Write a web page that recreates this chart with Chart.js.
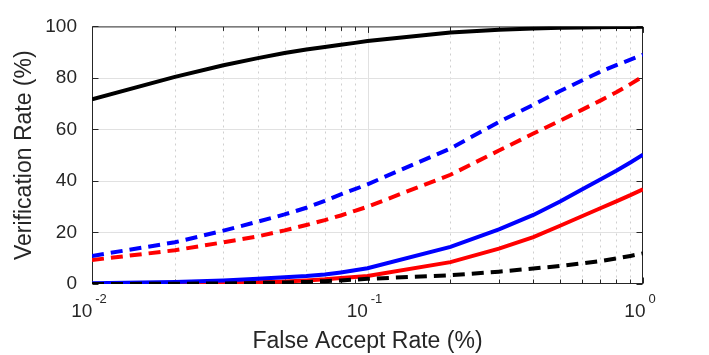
<!DOCTYPE html>
<html>
<head>
<meta charset="utf-8">
<script src="https://cdn.jsdelivr.net/npm/chart.js@4/dist/chart.umd.min.js"></script>
<style>
  html, body { margin: 0; padding: 0; background: #fff; }
  #wrap { width: 709px; height: 355px; }
</style>
</head>
<body>
<div id="wrap"><canvas id="rocChart"></canvas></div>
<script>
// false accept rate (%) sample points
const far = [0.01, 0.02, 0.03, 0.04, 0.05, 0.06, 0.07, 0.08, 0.09,
             0.1, 0.2, 0.3, 0.4, 0.5, 0.6, 0.7, 0.8, 0.9, 1];

// verification rate (%) per curve
const blackSolid = [71.7, 80.4, 84.9, 87.7, 89.7, 91.0, 92.0, 92.9, 93.6,
                    94.3, 97.6, 98.7, 99.2, 99.5, 99.6, 99.7, 99.8, 99.8, 99.9];
const blueDashed = [10.9, 16.2, 20.7, 24.2, 27.0, 29.6, 32.3, 34.8, 36.8,
                    38.7, 52.6, 62.9, 69.6, 74.9, 79.0, 82.4, 85.0, 87.1, 89.0];
const redDashed  = [9.3, 13.1, 16.2, 18.5, 20.8, 22.9, 24.8, 26.6, 28.4,
                    30.0, 42.4, 51.8, 58.4, 63.4, 67.6, 71.2, 74.4, 77.6, 80.6];
const blueSolid  = [0.3, 0.8, 1.4, 2.0, 2.6, 3.1, 3.7, 4.5, 5.3,
                    6.1, 14.4, 21.2, 26.8, 32.0, 36.7, 40.6, 44.0, 47.2, 50.2];
const redSolid   = [0.0, 0.2, 0.4, 0.7, 1.0, 1.4, 1.8, 2.3, 2.7,
                    3.1, 8.5, 13.7, 18.2, 22.6, 26.3, 29.4, 32.1, 34.5, 36.8];
const blackDashed = [0.0, 0.1, 0.2, 0.4, 0.6, 0.8, 1.1, 1.4, 1.7,
                     2.0, 3.4, 4.8, 6.0, 7.0, 8.0, 8.9, 9.9, 10.9, 11.9];

// axis ticks
const yTicks = [0, 20, 40, 60, 80, 100];
const xMajor = [0.01, 0.1, 1];
const xExponents = ["-2", "-1", "0"];

const FONT = "'Liberation Sans', Arial, Helvetica, sans-serif";
const TEXT = "#262626";

const xMinor = [];
xMajor.slice(0, -1).forEach((d) => {
  for (let k = 2; k <= 9; k++) xMinor.push(+(d * k).toFixed(4));
});

const pts = (ys) => far.map((x, i) => ({ x: x, y: ys[i] }));

// grid, box and inward tick marks (matlab look)
const axesBox = {
  id: "axesBox",
  beforeDatasetsDraw(chart) {
    const { ctx, chartArea: a, scales } = chart;
    const x = scales.x, y = scales.y;
    const L = a.left + 0.5, R = a.right - 0.5, T = a.top + 0.5, B = a.bottom - 0.5;
    const seg = (x1, y1, x2, y2) => {
      ctx.beginPath(); ctx.moveTo(x1, y1); ctx.lineTo(x2, y2); ctx.stroke();
    };
    ctx.save();
    ctx.lineWidth = 1;

    // dotted minor grid
    ctx.strokeStyle = "#cfcfcf";
    ctx.setLineDash([2, 4]);
    xMinor.forEach((v) => {
      const px = Math.round(x.getPixelForValue(v)) + 0.5;
      seg(px, B, px, T);
    });
    ctx.setLineDash([]);

    // solid major grid
    ctx.strokeStyle = "#e1e1e1";
    xMajor.slice(1, -1).forEach((v) => {
      const px = Math.round(x.getPixelForValue(v)) + 0.5;
      seg(px, B, px, T);
    });
    yTicks.slice(1, -1).forEach((v) => {
      const py = Math.round(y.getPixelForValue(v)) + 0.5;
      seg(L, py, R, py);
    });

    // box
    ctx.strokeStyle = TEXT;
    ctx.strokeRect(L, T, R - L, B - T);

    // tick marks
    yTicks.forEach((v) => {
      const py = Math.round(y.getPixelForValue(v)) + 0.5;
      seg(L, py, L + 6, py);
      seg(R, py, R - 6, py);
    });
    xMajor.forEach((v) => {
      const px = Math.round(x.getPixelForValue(v)) + 0.5;
      seg(px, B, px, B - 6);
      seg(px, T, px, T + 6);
    });
    xMinor.forEach((v) => {
      const px = Math.round(x.getPixelForValue(v)) + 0.5;
      seg(px, B, px, B - 4);
      seg(px, T, px, T + 4);
    });
    ctx.restore();
  },
  afterDraw(chart) {
    // x tick labels as 10 with superscript exponent
    const { ctx, chartArea: a, scales } = chart;
    ctx.save();
    ctx.fillStyle = TEXT;
    ctx.textBaseline = "alphabetic";
    ctx.textAlign = "left";
    xMajor.forEach((v, i) => {
      const px = scales.x.getPixelForValue(v);
      ctx.font = "19px " + FONT;
      const wb = ctx.measureText("10").width;
      ctx.font = "13px " + FONT;
      const ws = ctx.measureText(xExponents[i]).width;
      const left = px - (wb + 3 + ws) / 2 - 3;
      ctx.font = "19px " + FONT;
      ctx.fillText("10", left, a.bottom + 33);
      ctx.font = "13px " + FONT;
      ctx.fillText(xExponents[i], left + wb + 3, a.bottom + 19);
    });
    ctx.restore();
  },
};

const line = (data, color, dashed) => ({
  data: pts(data),
  borderColor: color,
  borderWidth: 4,
  borderDash: dashed ? [12, 7] : [],
  borderCapStyle: "butt",
  pointRadius: 0,
  tension: 0,
  fill: false,
});

new Chart(document.getElementById("rocChart"), {
  type: "line",
  data: {
    // first dataset is drawn on top
    datasets: [
      line(blackDashed, "#000000", true),
      line(blueSolid, "#0000ff", false),
      line(redSolid, "#ff0000", false),
      line(blueDashed, "#0000ff", true),
      line(redDashed, "#ff0000", true),
      line(blackSolid, "#000000", false),
    ],
  },
  options: {
    responsive: true,
    maintainAspectRatio: false,
    animation: false,
    layout: { padding: { top: 26, right: 66, left: 0, bottom: 0 } },
    plugins: {
      legend: { display: false },
      tooltip: { enabled: false },
    },
    scales: {
      x: {
        type: "logarithmic",
        min: 0.01,
        max: 1,
        grid: { display: false, drawTicks: false },
        border: { display: false },
        ticks: { display: false },
        title: {
          display: true,
          text: "False Accept Rate (%)",
          color: TEXT,
          font: { family: FONT, size: 23 },
          padding: { top: 0, bottom: 0 },
        },
        afterFit: (scale) => { scale.height = 71; },
      },
      y: {
        min: 0,
        max: 100,
        grid: { display: false, drawTicks: false },
        border: { display: false },
        afterBuildTicks: (scale) => { scale.ticks = yTicks.map((v) => ({ value: v })); },
        ticks: {
          color: TEXT,
          padding: 15,
          font: { family: FONT, size: 19 },
        },
        title: {
          display: true,
          text: "Verification Rate (%)",
          color: TEXT,
          font: { family: FONT, size: 23 },
          padding: { top: 11, bottom: 0 },
        },
        afterFit: (scale) => { scale.width = 92; },
      },
    },
  },
  plugins: [axesBox],
});
</script>
</body>
</html>
